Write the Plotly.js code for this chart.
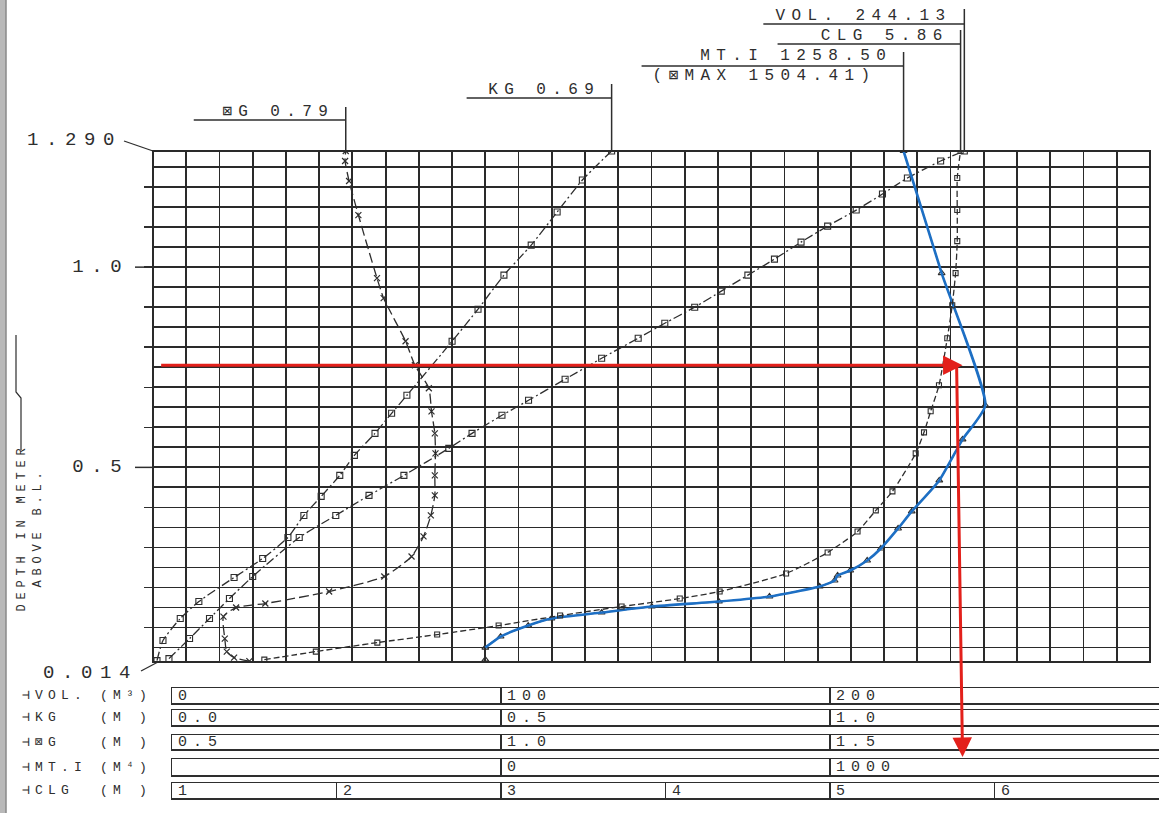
<!DOCTYPE html>
<html>
<head>
<meta charset="utf-8">
<script src="https://cdn.plot.ly/plotly-3.0.1.min.js"></script>
<style>
  html, body { margin: 0; padding: 0; background: #ffffff; }
  #chart { width: 1159px; height: 813px; }
</style>
</head>
<body>
<div id="chart"></div>
<script>
// ---------------- DATA ----------------
// depth above B.L. (m) and the value of each hydrostatic curve
const depthVol = [0.0225, 0.0725, 0.1225, 0.1725, 0.2275, 0.325, 0.38, 0.43, 0.48, 0.5475, 0.585, 0.63, 0.6675, 0.72, 0.7725, 0.8225, 0.86, 0.90, 0.94, 0.98, 1.02, 1.0625, 1.1025, 1.1425, 1.1825, 1.2225, 1.265, 1.29];
const vol      = [4.8, 11.0, 17.0, 23.0, 30.0, 44.0, 55.0, 65.0, 75.5, 89.0, 96.0, 105.0, 113.0, 124.0, 135.0, 146.0, 154.0, 163.0, 171.0, 179.0, 187.0, 195.0, 203.0, 211.6, 219.5, 227.0, 237.0, 244.13];

const depthKG = [0.0175, 0.0675, 0.1225, 0.165, 0.225, 0.2725, 0.325, 0.38, 0.4275, 0.48, 0.53, 0.585, 0.635, 0.68, 0.815, 0.895, 0.98, 1.055, 1.1375, 1.2175, 1.29];
const kg      = [0.006, 0.015, 0.041, 0.069, 0.122, 0.165, 0.203, 0.227, 0.253, 0.281, 0.303, 0.334, 0.359, 0.382, 0.45, 0.489, 0.528, 0.569, 0.608, 0.646, 0.69];

const depthBG = [0.016, 0.025, 0.04, 0.0725, 0.1275, 0.15, 0.16, 0.19, 0.2275, 0.2775, 0.3275, 0.38, 0.43, 0.48, 0.535, 0.585, 0.64, 0.6975, 0.755, 0.815, 0.9225, 0.9725, 1.13, 1.215, 1.265, 1.29];
const bg      = [0.645, 0.622, 0.611, 0.608, 0.606, 0.625, 0.669, 0.765, 0.848, 0.889, 0.907, 0.918, 0.924, 0.924, 0.925, 0.924, 0.919, 0.915, 0.894, 0.88, 0.847, 0.837, 0.809, 0.795, 0.789, 0.79];

const depthMT = [0.02, 0.05, 0.0775, 0.105, 0.1225, 0.1375, 0.1525, 0.165, 0.1775, 0.2025, 0.2175, 0.23, 0.2425, 0.2675, 0.2975, 0.3475, 0.39, 0.4675, 0.57, 0.655, 0.985, 1.29];
const mti     = [0, 0, 46, 129, 199, 350, 501, 703, 855, 1006, 1051, 1060, 1098, 1149, 1190, 1242, 1283, 1366, 1436, 1504.41, 1373, 1258.5];

const depthCLG = [0.02, 0.04, 0.0625, 0.0825, 0.105, 0.13, 0.1525, 0.1725, 0.19, 0.235, 0.2875, 0.34, 0.3925, 0.44, 0.535, 0.5875, 0.64, 0.705, 0.8225, 0.905, 0.985, 1.065, 1.1425, 1.2225, 1.29];
const clg      = [1.67, 1.98, 2.35, 2.71, 3.08, 3.45, 3.82, 4.17, 4.41, 4.81, 5.06, 5.24, 5.35, 5.45, 5.59, 5.64, 5.68, 5.73, 5.78, 5.81, 5.83, 5.84, 5.84, 5.84, 5.86];

// scale boxes under the chart: tick values and their labels
const volScaleVals = [0, 100, 200];        const volScaleText = ['0', '100', '200'];
const kgScaleVals  = [0, 0.5, 1.0];        const kgScaleText  = ['0.0', '0.5', '1.0'];
const bgScaleVals  = [0.5, 1.0, 1.5];      const bgScaleText  = ['0.5', '1.0', '1.5'];
const mtScaleVals  = [0, 1000];            const mtScaleText  = ['0', '1000'];
const clgScaleVals = [1, 2, 3, 4, 5, 6];   const clgScaleText = ['1', '2', '3', '4', '5', '6'];

// depth axis labels
const depthLabelVals = [0.5, 1.0];        const depthLabelText = ['0.5', '1.0'];
const depthEnds = [0.014, 1.29];          const depthEndText = ['0.014', '1.290'];

// the hand-drawn red reading (depth -> MT.I)
const readingDepth = 0.755;
const readingMTI = 1436;

// ---------------- LAYOUT ----------------
const W = 1159, H = 813;
const px = v => v / W;
const py = v => 1 - v / H;
const INK = '#2e2e2e', GRID = '#2a2a2a', RED = '#e3201b', BLUE = '#1d6fc4';
const FONT = 'Liberation Mono, DejaVu Sans Mono, monospace';

const volRange = [0, 300], kgRange = [0, 1.5], bgRange = [0.5, 2.0], mtRange = [-1000, 2000], clgRange = [1, 7];
const depthRange = [depthEnds[0], depthEnds[1]];

const plotTop = 151, plotBot = 662, plotLeft = 153, plotRight = 1150;
const mainX = [px(plotLeft), px(plotRight)];
const mainY = [py(plotBot), py(plotTop)];
const rowX = [px(172), 1];
const pxPerDepth = (plotBot - plotTop) / (depthRange[1] - depthRange[0]);
const depthPx = d => plotTop + (depthRange[1] - d) * pxPerDepth;

const layout = {
  width: W, height: H,
  margin: {l: 0, r: 0, t: 0, b: 0},
  paper_bgcolor: '#ffffff', plot_bgcolor: 'rgba(0,0,0,0)',
  showlegend: false,
  font: {family: FONT, color: INK, size: 15},
  xaxis:  {domain: mainX, range: volRange, anchor: 'y', tick0: 0, dtick: 10, showgrid: true,
           gridcolor: GRID, gridwidth: 1.8, showticklabels: false, ticks: '', zeroline: false,
           showline: false, fixedrange: true},
  xaxis2: {overlaying: 'x', anchor: 'y', range: kgRange,  visible: false, fixedrange: true},
  xaxis3: {overlaying: 'x', anchor: 'y', range: bgRange,  visible: false, fixedrange: true},
  xaxis4: {overlaying: 'x', anchor: 'y', range: mtRange,  visible: false, fixedrange: true},
  xaxis5: {overlaying: 'x', anchor: 'y', range: clgRange, visible: false, fixedrange: true},
  yaxis:  {domain: mainY, range: depthRange, anchor: 'x', tick0: 0, dtick: 0.1, showgrid: true,
           gridcolor: GRID, gridwidth: 1.8, ticks: 'outside', ticklen: 8, tickwidth: 1.5,
           tickcolor: INK, showticklabels: false, zeroline: false, showline: false, fixedrange: true,
           minor: {tick0: 0, dtick: 0.05, showgrid: true, gridcolor: GRID, gridwidth: 1.8, ticks: ''}},
  shapes: [],
  annotations: []
};

// ---- scale boxes ----
const rows = [
  {label: '⊣VOL. (M³)', range: volRange, vals: volScaleVals, text: volScaleText, top: 688, bot: 703},
  {label: '⊣KG   (M )', range: kgRange,  vals: kgScaleVals,  text: kgScaleText,  top: 710, bot: 725},
  {label: '⊣⊠G   (M )', range: bgRange,  vals: bgScaleVals,  text: bgScaleText,  top: 735, bot: 749},
  {label: '⊣MT.I (M⁴)', range: mtRange,  vals: mtScaleVals,  text: mtScaleText,  top: 759, bot: 775},
  {label: '⊣CLG  (M )', range: clgRange, vals: clgScaleVals, text: clgScaleText, top: 783, bot: 798}
];
rows.forEach((r, i) => {
  const xn = 'x' + (6 + i), yn = 'y' + (2 + i);
  layout['xaxis' + (6 + i)] = {
    domain: rowX, range: r.range, anchor: yn, showline: true, mirror: true, linecolor: INK, linewidth: 1.5,
    ticks: 'inside', ticklen: r.bot - r.top, tickwidth: 1.5, tickcolor: INK, tickmode: 'array',
    tickvals: r.vals, showticklabels: false, showgrid: false, zeroline: false, fixedrange: true
  };
  layout['yaxis' + (2 + i)] = {
    domain: [py(r.bot), py(r.top)], range: [0, 1], anchor: xn, showline: true, mirror: true,
    linecolor: INK, linewidth: 1.5, showticklabels: false, showgrid: false, zeroline: false,
    ticks: '', fixedrange: true
  };
  layout.annotations.push({
    xref: 'paper', x: px(20), yref: yn + ' domain', y: 0.5, xanchor: 'left', yanchor: 'middle',
    align: 'left', text: r.label, showarrow: false, font: {size: 13, color: INK}
  });
  r.vals.forEach((v, k) => {
    layout.annotations.push({
      xref: xn, x: v, yref: yn + ' domain', y: 0.45, xanchor: 'left', yanchor: 'middle', align: 'left',
      xshift: 4, text: r.text[k], showarrow: false, font: {size: 15, color: INK}
    });
  });
});

// ---- frame of the main grid ----
layout.shapes.push({type: 'rect', xref: 'x domain', yref: 'y domain', x0: 0, x1: 1, y0: 0, y1: 1,
                    line: {color: GRID, width: 2}, layer: 'above'});

// ---- depth labels 0.5 / 1.0 with long ticks ----
depthLabelVals.forEach((d, k) => {
  layout.annotations.push({xref: 'paper', x: px(131), yref: 'y', y: d, xanchor: 'right',
    yanchor: 'middle', align: 'right', text: depthLabelText[k], showarrow: false,
    font: {size: 19, color: INK}});
  layout.shapes.push({type: 'line', xref: 'paper', yref: 'paper', x0: px(135), x1: px(plotLeft),
    y0: py(depthPx(d)), y1: py(depthPx(d)), line: {color: INK, width: 1.5}});
});
// ---- depth end labels with slanted leaders ----
layout.annotations.push({xref: 'paper', x: px(124), yref: 'paper', y: py(depthPx(depthEnds[1]) - 11),
  xanchor: 'right', yanchor: 'middle', align: 'right', text: depthEndText[1], showarrow: false,
  font: {size: 19, color: INK}});
layout.annotations.push({xref: 'paper', x: px(140), yref: 'paper', y: py(depthPx(depthEnds[0]) + 11),
  xanchor: 'right', yanchor: 'middle', align: 'right', text: depthEndText[0], showarrow: false,
  font: {size: 19, color: INK}});
layout.shapes.push({type: 'line', xref: 'paper', yref: 'paper', x0: px(124), x1: px(plotLeft),
  y0: py(depthPx(depthEnds[1]) - 10), y1: py(depthPx(depthEnds[1])), line: {color: INK, width: 1.3}});
layout.shapes.push({type: 'line', xref: 'paper', yref: 'paper', x0: px(141), x1: px(plotLeft + 5),
  y0: py(depthPx(depthEnds[0]) + 9), y1: py(depthPx(depthEnds[0])), line: {color: INK, width: 1.3}});

// ---- top value labels with leaders ----
const last = a => a[a.length - 1];
const topLabels = [
  {axis: 'x',  value: last(vol), text: 'VOL. ' + last(vol).toFixed(2), ty: 16, uy: 24, ulen: 201, vtop: 9},
  {axis: 'x5', value: last(clg), text: 'CLG ' + last(clg).toFixed(2),  ty: 36, uy: 44, ulen: 183, vtop: 30},
  {axis: 'x4', value: last(mti), text: 'MT.I ' + last(mti).toFixed(2), ty: 56, uy: 66, ulen: 262, vtop: 52},
  {axis: 'x2', value: last(kg),  text: 'KG ' + last(kg).toFixed(2),    ty: 90, uy: 98, ulen: 145, vtop: 84},
  {axis: 'x3', value: last(bg),  text: '⊠G ' + last(bg).toFixed(2),    ty: 112, uy: 120, ulen: 152, vtop: 107}
];
topLabels.forEach(t => {
  layout.annotations.push({xref: t.axis, x: t.value, yref: 'paper', y: py(t.ty), xanchor: 'right',
    yanchor: 'middle', align: 'right', xshift: -10, text: t.text, showarrow: false,
    font: {size: 16, color: INK}});
  layout.shapes.push({type: 'line', xref: t.axis, xsizemode: 'pixel', xanchor: t.value, x0: -t.ulen, x1: 0,
    yref: 'paper', y0: py(t.uy), y1: py(t.uy), line: {color: INK, width: 1.5}});
  layout.shapes.push({type: 'line', xref: t.axis, x0: t.value, x1: t.value, yref: 'paper',
    y0: py(t.vtop), y1: py(plotTop), line: {color: INK, width: 1.5}});
});
layout.annotations.push({xref: 'x4', x: last(mti), yref: 'paper', y: py(76), xanchor: 'right',
  yanchor: 'middle', align: 'right', xshift: -26,
  text: '(⊠MAX ' + Math.max(...mti).toFixed(2) + ')', showarrow: false, font: {size: 16, color: INK}});

// ---- axis title ----
layout.annotations.push({xref: 'paper', x: px(13), yref: 'paper', y: py(528), textangle: -90,
  text: 'DEPTH IN METER<br>ABOVE B.L.', showarrow: false, align: 'center',
  font: {size: 12, color: INK}});
layout.shapes.push({type: 'path', xref: 'paper', yref: 'paper',
  path: `M ${px(16)} ${py(335)} L ${px(16)} ${py(392)} L ${px(21)} ${py(398)} L ${px(21)} ${py(450)}`,
  line: {color: INK, width: 1.2}});
// scanned page edge
layout.shapes.push({type: 'rect', xref: 'paper', yref: 'paper', x0: 0, x1: px(6), y0: 0, y1: 1,
  fillcolor: '#b9b9b9', line: {width: 0}, layer: 'below'});
layout.shapes.push({type: 'line', xref: 'paper', yref: 'paper', x0: px(6), x1: px(6), y0: 0, y1: 1,
  line: {color: '#8a8a8a', width: 1.5}, layer: 'below'});

// ---- red reading arrows ----
const tailPx = depthPx(readingDepth + 0.008);
const headPx = 757;
layout.annotations.push({xref: 'x4', yref: 'y', x: readingMTI, y: readingDepth,
  axref: 'x4', ayref: 'y', ax: mtRange[0] + 20, ay: readingDepth, text: '', showarrow: true,
  arrowhead: 2, arrowsize: 1.3, arrowwidth: 3, arrowcolor: RED, standoff: 0});
layout.annotations.push({xref: 'x4', yref: 'paper', x: readingMTI, y: py(headPx),
  axref: 'pixel', ayref: 'pixel', ax: -6, ay: -(headPx - tailPx), text: '', showarrow: true,
  arrowhead: 2, arrowsize: 1.3, arrowwidth: 3, arrowcolor: RED, standoff: 0});

// ---------------- TRACES ----------------
const curve = (dash) => ({color: INK, width: 1.3, dash: dash, shape: 'spline', smoothing: 0.6});
const traces = [
  {name: 'VOL. (M³)', x: vol, y: depthVol, xaxis: 'x', yaxis: 'y', mode: 'lines+markers',
   line: curve('9px,3px,2px,3px'), marker: {symbol: 'square-open', size: 6, color: INK, line: {width: 1.1, color: INK}}},
  {name: 'KG (M)', x: kg, y: depthKG, xaxis: 'x2', yaxis: 'y', mode: 'lines+markers',
   line: curve('9px,3px,2px,3px'), marker: {symbol: 'square-open', size: 6, color: INK, line: {width: 1.1, color: INK}}},
  {name: '⊠G (M)', x: bg, y: depthBG, xaxis: 'x3', yaxis: 'y', mode: 'lines+markers',
   line: curve('10px,4px'), marker: {symbol: 'x-thin-open', size: 6, color: INK, line: {width: 1.2, color: INK}}},
  {name: 'CLG (M)', x: clg, y: depthCLG, xaxis: 'x5', yaxis: 'y', mode: 'lines+markers',
   line: curve('6px,3px'), marker: {symbol: 'square-open', size: 5, color: INK, line: {width: 1.1, color: INK}}},
  {name: 'MT.I (M⁴)', x: mti, y: depthMT, xaxis: 'x4', yaxis: 'y', mode: 'lines+markers',
   line: {color: INK, width: 1.2, shape: 'spline', smoothing: 0.5},
   marker: {symbol: 'triangle-up-open', size: 6, color: INK, line: {width: 1.1, color: INK}}},
  {name: 'MT.I highlight', x: mti.slice(1), y: depthMT.slice(1), xaxis: 'x4', yaxis: 'y', mode: 'lines',
   line: {color: BLUE, width: 2.6, shape: 'spline', smoothing: 0.5}}
];

Plotly.newPlot('chart', traces, layout, {staticPlot: true, displayModeBar: false}).then(gd => {
  // plotter-style wide letter spacing
  gd.querySelectorAll('text').forEach(t => {
    const fs = parseFloat(t.style.fontSize) || 14;
    t.style.letterSpacing = (fs * 0.4).toFixed(1) + 'px';
  });
});
</script>
</body>
</html>
